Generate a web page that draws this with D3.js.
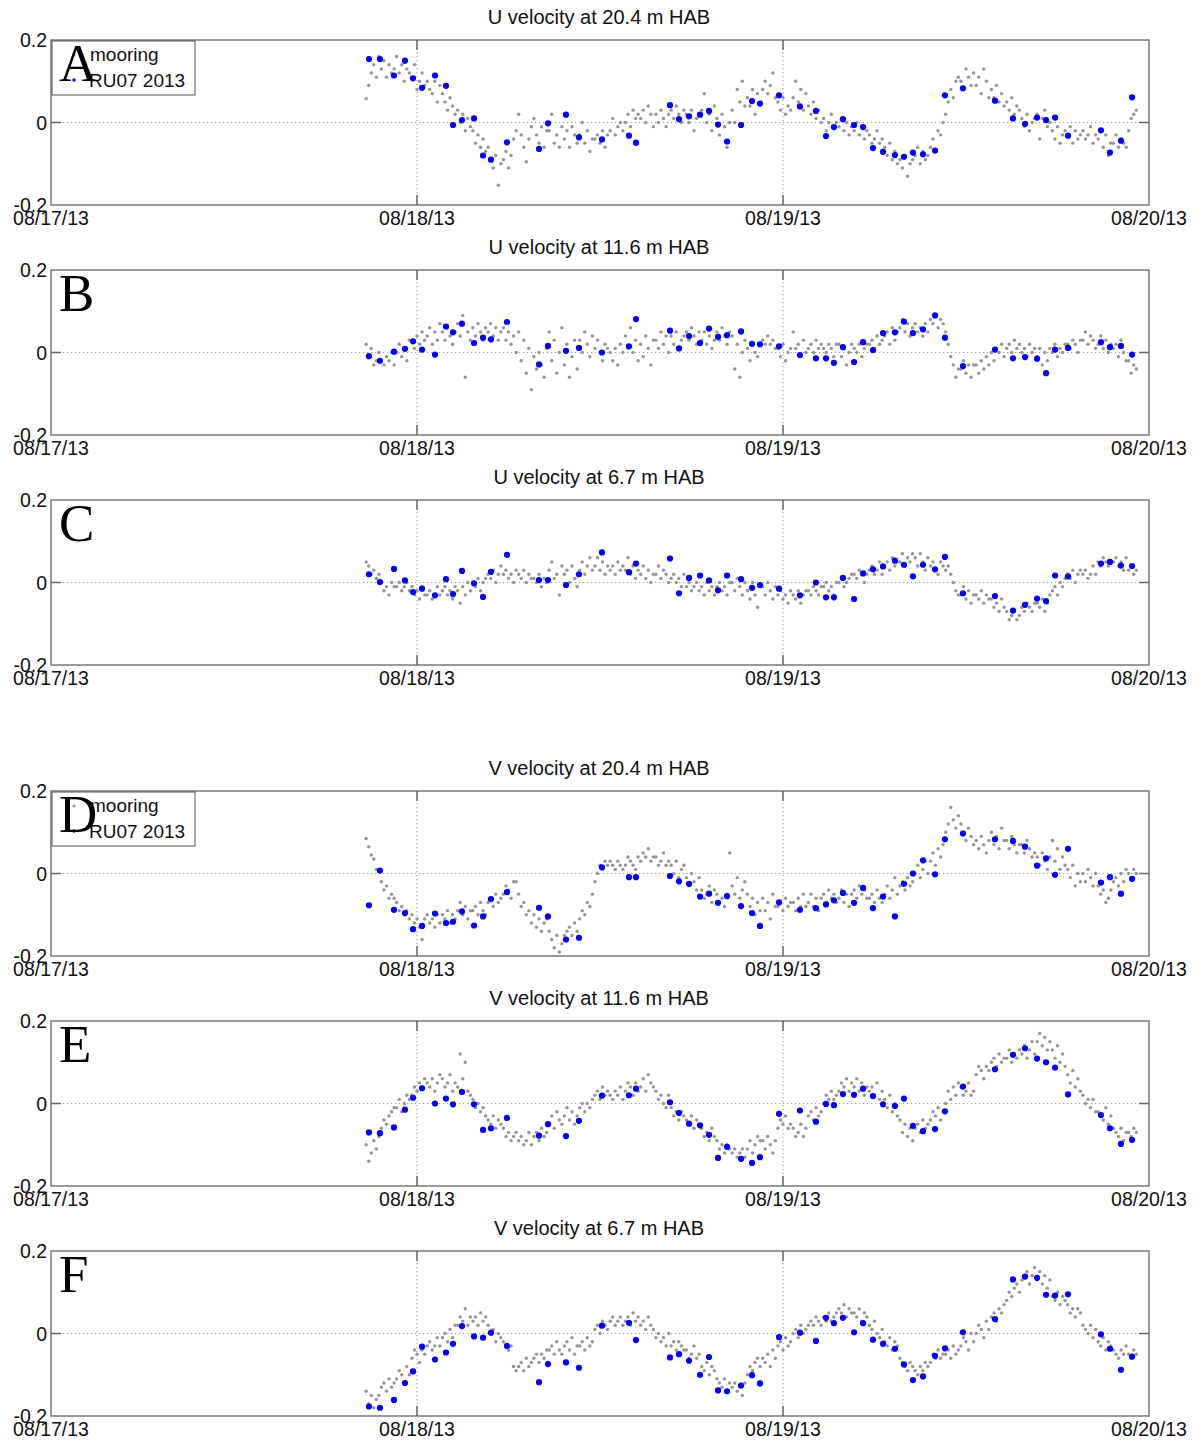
<!DOCTYPE html>
<html><head><meta charset="utf-8">
<script src="https://cdn.jsdelivr.net/npm/d3@7"></script>
<style>body{margin:0;background:#fff}svg{display:block}</style>
</head><body>
<script>
// ---------- DATA ----------
const panelTitles = ["U velocity at 20.4 m HAB","U velocity at 11.6 m HAB","U velocity at 6.7 m HAB",
                     "V velocity at 20.4 m HAB","V velocity at 11.6 m HAB","V velocity at 6.7 m HAB"];
const panelLetters = ["A","B","C","D","E","F"];
const xTickLabels = ["08/17/13","08/18/13","08/19/13","08/20/13"];
const yTickValues = [-0.2, 0, 0.2];
const yTickLabels = ["-0.2","0","0.2"];
const legendLabels = ["mooring","RU07 2013"];
// mooring samples: start 2013-08-17 20:40 UTC, every 10 minutes
const mooringStartHour = 20 + 40/60;
const mooringStepMinutes = 10;
const mooringU20 = [
.058,.09,.12,.14,.11,.16, .13,.15,.11,.14,.12,.13, .16,.12,.14,.10,.13,.12, .11,.14,.08,.10,.12,.09,
.10,.08,.07,.10,.05,.09, .07,.05,.03,.06,.04,.02, .03,.00,.02,-.02,.01,-.01, -.02,-.05,-.03,-.06,-.04,-.07,
-.06,-.09,-.11,-.08,-.152,-.10, -.09,-.07,-.11,-.08,-.04,-.02, .02,-.03,-.06,-.095,-.04,-.01, .01,-.03,-.05,-.01,-.06,-.02,
-.02,.02,-.05,-.03,-.06,-.01, -.04,-.02,-.06,-.01,-.03,-.05, -.03,.00,-.05,-.02,-.07,-.04, -.04,-.03,-.05,-.02,-.06,-.03,
-.02,.01,-.03,-.01,.00,-.02, .00,.02,-.01,.03,.01,.02, .01,.03,.00,.04,.02,-.01, .02,.00,.03,.01,-.01,.02,
.03,.01,.04,.02,.00,.03, .02,.00,.03,-.02,.01,.02, .03,.07,.00,.02,-.02,.04, .01,-.03,.02,-.01,-.06,.00,
.03,.00,.08,.05,.10,.04, .06,.04,.08,.02,.07,.05, .08,.10,.07,.09,.12,.06, .05,.03,.06,.02,.04,.03,
.06,.10,.05,.08,.03,.07, .04,.02,.05,.01,.03,.00, .01,-.02,.00,.02,-.01,.00, -.01,.01,-.02,.00,-.03,-.01,
-.02,.00,-.03,-.01,-.04,-.02, -.03,-.05,-.04,-.02,-.05,-.04, -.06,-.08,-.05,-.09,-.07,-.10, -.09,-.11,-.08,-.13,-.10,-.09,
-.08,-.06,-.10,-.07,-.09,-.08, -.06,-.04,-.07,-.02,-.03,.00, .02,.05,.08,.06,.10,.11, .10,.08,.13,.11,.09,.12,
.09,.11,.07,.13,.10,.06, .08,.06,.09,.05,.07,.04, .05,.03,.06,.02,.04,.03, .01,-.01,.02,-.02,.00,.01,
.02,-.04,.01,.03,-.01,.00, -.02,-.04,-.01,-.05,-.03,-.02, -.03,-.01,-.05,-.02,-.04,-.03, -.02,-.04,-.03,-.01,-.05,-.03,
-.04,-.02,-.06,-.03,-.08,-.05, -.05,-.03,-.06,-.04,-.05,-.06, -.02,.01,.02,.03];
const mooringU11 = [
.02,-.01,.01,-.03,-.02,.00, -.02,-.03,-.01,-.02,.00,-.03, .00,.02,-.01,.01,-.02,.03, .03,.01,.04,.02,.05,.03,
.04,.06,.02,.05,.03,.07, .05,.03,.06,.04,.02,.05, .07,.04,.09,-.06,.05,.03, .06,.04,.07,.05,.03,.06,
.05,.07,.04,.06,.03,.05, .06,.03,.05,.02,.04,.00, .05,-.02,.03,-.05,.01,-.09, -.01,-.04,.00,-.03,-.06,.01,
.05,-.02,.03,-.05,.00,.06, -.03,.02,-.06,-.01,.03,-.04, .03,.00,.05,.02,-.01,.04, .01,.03,.00,-.02,.02,.01,
.00,-.02,.01,-.03,.02,.00, .04,.01,.06,.00,.03,-.02, .02,-.01,.04,.01,-.03,.03, .03,.01,.05,.02,.04,.00,
.04,.02,.05,.01,.03,.04, .05,.03,.06,.04,.02,.05, .03,.05,.02,.04,.01,.03, .05,.03,.06,.04,.02,.05,
.04,-.04,.02,-.06,.00,.03, .01,-.02,.02,.00,-.01,.02, .03,.02,.04,.02,.03,.01, .01,-.01,.02,-.02,.00,.01,
.05,.01,.02,-.01,.03,.00, .01,.02,.00,.03,.01,.02, .01,.00,.02,.01,-.01,.02, .02,-.01,.01,-.03,.00,.02,
.01,.00,.02,-.01,.01,.02, .02,.03,.01,.04,.02,.03, .04,.05,.02,.06,.03,.05, .06,.08,.05,.07,.04,.06,
.07,.05,.06,.04,.07,.05, .08,.07,.09,.06,.08,.07, .05,.02,-.01,-.03,-.06,-.04, -.04,-.02,-.05,-.03,-.06,-.03,
-.03,-.05,-.02,-.04,-.01,-.03, .00,-.02,.01,.00,.02,-.01, .01,.02,.00,.03,.01,.02, .00,.01,-.01,.02,.00,.01,
-.01,.01,-.03,.00,-.02,.01, .00,.02,-.01,.01,.00,.02, .02,.01,.03,.02,.00,.03, .03,.05,.02,.04,.03,.01,
.02,.04,.01,.03,.00,.02, .01,.02,-.01,.03,.00,-.02, -.02,-.05,-.03,-.04];
const mooringU7 = [
.05,.04,.02,.03,.01,.02, .00,-.02,-.01,-.03,.00,-.01, -.01,.00,-.02,-.01,.00,-.02, -.01,-.03,-.02,-.04,-.01,-.03,
-.03,-.02,-.04,-.03,-.01,-.03, -.02,-.01,-.03,-.02,-.04,-.01, -.02,-.05,-.01,-.03,.00,-.02, .00,-.01,.01,-.02,.00,.01,
.02,.01,.03,.00,.02,.04, .02,.03,.01,.02,.00,.03, .02,.01,.03,.00,.02,.01, .01,.00,.02,-.01,.01,.00,
.03,.05,.01,.02,-.03,.04, .02,.03,.00,.04,.01,-.01, .03,.05,.02,.04,.06,.03, .04,.06,.03,.05,.02,.04,
.03,.04,.02,.05,.03,.04, .03,.06,.02,.04,.01,.03, .02,.04,.01,.03,.00,.02, .02,.04,.01,.03,.02,.00,
.01,.02,.00,.01,-.01,.02, -.01,.00,-.02,-.01,.00,-.02, -.01,-.03,.00,-.02,-.01,-.03, -.01,.00,-.02,-.01,-.03,.00,
.00,-.02,.01,-.01,-.03,.00, -.02,-.04,.00,-.03,-.06,-.01, -.01,-.03,.00,-.02,-.04,-.01, -.03,-.02,-.04,-.03,-.05,-.02,
-.03,-.04,-.02,-.05,-.03,-.02, -.02,-.03,-.01,-.02,-.03,-.01, -.01,.00,-.02,-.01,-.03,.00, .00,.01,-.01,.00,.01,.02,
.02,.01,.03,.02,.00,.02, .03,.04,.02,.03,.05,.02, .04,.05,.03,.06,.04,.05, .05,.07,.04,.06,.05,.07,
.06,.04,.07,.05,.03,.06, .04,.05,.03,.02,.05,.04, .03,.04,.02,.00,-.02,-.03, -.03,-.01,-.04,-.02,-.05,-.03,
-.03,-.04,-.02,-.05,-.03,-.04, -.04,-.06,-.05,-.07,-.04,-.06, -.07,-.09,-.08,-.07,-.09,-.08, -.06,-.07,-.05,-.06,-.07,-.05,
-.05,-.06,-.04,-.07,-.05,-.03, -.02,-.01,-.03,.00,-.01,.01, .02,.01,.03,.00,.02,.03, .02,.03,.01,.02,.04,.02,
.05,.04,.06,.05,.04,.05, .05,.06,.04,.05,.03,.06, .03,.04,.02,.03];
const mooringV20 = [
.085,.065,.045,.035,.01,.005, -.02,-.04,-.03,-.06,-.05,-.06, -.07,-.09,-.08,-.10,-.09,-.11, -.10,-.12,-.11,-.13,-.16,-.11,
-.10,-.12,-.11,-.13,-.10,-.12, -.10,-.11,-.09,-.12,-.10,-.11, -.09,-.07,-.10,-.08,-.11,-.09, -.09,-.08,-.10,-.07,-.09,-.10,
-.07,-.06,-.08,-.05,-.07,-.06, -.05,-.03,-.04,-.06,-.02,-.02, -.05,-.08,-.07,-.10,-.09,-.12, -.10,-.13,-.11,-.14,-.12,-.11,
-.14,-.16,-.18,-.15,-.19,-.17, -.15,-.14,-.13,-.15,-.12,-.14, -.11,-.09,-.10,-.07,-.08,-.05, -.02,.00,.02,.01,.03,.02,
.03,.02,.01,.03,.02,.01, .02,.04,.03,.02,.01,.04, .03,.05,.04,.06,.03,.04, .04,.02,.03,.05,.02,.03,
.02,.00,.03,-.01,.01,.02, -.01,-.03,.00,-.02,-.04,-.01, -.04,-.06,-.05,-.03,-.07,-.04, -.05,-.07,-.06,-.08,-.05,.05,
-.03,-.05,-.01,-.06,-.04,-.02, -.05,-.08,-.06,-.10,-.07,-.09, -.06,-.09,-.07,-.11,-.05,-.08, -.08,-.07,-.09,-.06,-.08,-.07,
-.07,-.09,-.06,-.08,-.05,-.08, -.07,-.05,-.08,-.06,-.09,-.06, -.05,-.07,-.04,-.06,-.05,-.07, -.06,-.04,-.07,-.05,-.08,-.05,
-.04,-.06,-.03,-.05,-.04,-.06, -.06,-.05,-.07,-.04,-.06,-.07, -.05,-.03,-.06,-.04,-.01,-.05, -.03,-.02,-.04,-.01,-.03,-.02,
.00,.02,-.01,.01,.03,.00, .03,.05,.02,.06,.04,.07, .10,.12,.16,.13,.11,.14, .12,.10,.08,.11,.09,.07,
.08,.06,.09,.07,.05,.08, .10,.07,.09,.06,.11,.08, .08,.06,.09,.07,.05,.07, .07,.05,.08,.06,.04,.05,
.04,.02,.05,.03,.01,.04, .08,.03,.06,.01,.04,.02, .01,-.01,.02,-.03,.00,-.02, .00,-.02,.01,-.01,-.03,.00,
-.03,-.05,-.04,-.07,-.06,-.04, -.02,-.01,-.03,.00,-.02,.01, .00,-.01,.01,.00];
const mooringV11 = [
-.10,-.14,-.12,-.09,-.11,-.08, -.06,-.04,-.05,-.03,-.02,-.01, -.01,.01,-.02,.00,.02,.01, .02,.04,.03,.05,.04,.06,
.05,.04,.06,.03,.05,.07, .06,.04,.05,.07,.03,.05, .04,.12,.06,.10,.03,.02, .01,-.01,.00,-.02,-.01,-.03,
-.04,-.05,-.03,-.06,-.04,-.05, -.06,-.08,-.07,-.09,-.08,-.07, -.09,-.08,-.10,-.09,-.07,-.10, -.08,-.07,-.09,-.06,-.08,-.07,
-.05,-.03,-.06,-.02,-.04,-.05, -.03,-.01,-.04,-.02,-.05,-.03, -.01,.00,-.02,.00,-.01,.01, .02,.03,.01,.04,.02,.03,
.02,.01,.03,.02,.04,.01, .03,.05,.04,.02,.05,.03, .04,.06,.03,.07,.05,.04, .03,.01,.02,.00,-.01,.02,
-.01,-.03,-.02,-.04,-.02,-.03, -.04,-.05,-.03,-.06,-.04,-.05, -.06,-.08,-.07,-.09,-.06,-.08, -.09,-.11,-.10,-.12,-.10,-.11,
-.12,-.11,-.13,-.12,-.11,-.13, -.11,-.09,-.12,-.10,-.08,-.09, -.09,-.11,-.08,-.10,-.12,-.09, -.06,-.04,-.05,-.03,-.06,-.05,
-.06,-.08,-.07,-.05,-.08,-.06, -.03,-.02,-.04,-.01,-.03,-.02, .00,.02,.01,.03,.01,.02, .03,.05,.04,.06,.03,.05,
.04,.06,.03,.05,.02,.04, .03,.04,.02,.05,.01,.03, .01,-.01,.02,-.02,.00,-.03, -.04,-.07,-.05,-.08,-.06,-.09,
-.06,-.05,-.07,-.04,-.06,-.05, -.04,-.02,-.03,-.01,-.04,-.02, .00,.03,.01,.04,.02,.05, .04,.02,.03,.05,.02,.03,
.07,.09,.08,.06,.09,.08, .10,.11,.09,.12,.10,.11, .11,.13,.10,.12,.11,.13, .12,.14,.11,.13,.15,.12,
.15,.17,.14,.16,.13,.15, .13,.11,.14,.10,.12,.09, .07,.05,.08,.04,.06,.03, .02,.00,.01,-.01,.01,-.02,
-.02,-.03,-.04,-.01,-.05,-.03, -.06,-.07,-.08,-.06,-.09,-.07, -.07,-.08,-.06,-.07];
const mooringV7 = [
-.14,-.17,-.15,-.18,-.16,-.15, -.13,-.12,-.14,-.11,-.13,-.12, -.11,-.09,-.10,-.12,-.08,-.10, -.06,-.04,-.05,-.07,-.04,-.05,
-.03,-.02,-.04,-.03,-.01,-.03, -.01,.00,-.02,.01,-.01,.02, .02,.04,.03,.06,.02,.04, .03,.04,.02,.05,.03,.04,
.02,.00,.01,-.02,.00,-.01, -.02,-.03,-.04,-.03,-.08,-.09, -.08,-.07,-.09,-.06,-.08,-.07, -.06,-.05,-.07,-.05,-.06,-.04,
-.04,-.03,-.05,-.02,-.04,-.05, -.03,-.02,-.04,-.01,-.05,-.03, -.03,-.02,-.04,-.01,-.03,-.02, .01,.02,.00,.03,.02,.01,
.03,.04,.02,.03,.04,.02, .03,.04,.02,.05,.03,.04, .02,.03,.01,.04,.02,.01, -.01,.00,-.02,-.01,-.03,.00,
-.03,-.02,-.04,-.02,-.03,-.04, -.04,-.06,-.05,-.03,-.06,-.05, -.08,-.09,-.07,-.10,-.08,-.09, -.11,-.12,-.13,-.11,-.14,-.12,
-.13,-.12,-.14,-.13,-.15,-.12, -.10,-.08,-.09,-.07,-.06,-.08, -.06,-.07,-.05,-.08,-.04,-.06, -.03,-.02,-.04,-.01,-.03,-.02,
.00,.01,-.01,.02,.00,.01, .02,.03,.02,.04,.03,.02, .04,.03,.05,.03,.04,.05, .06,.05,.07,.04,.06,.05,
.05,.04,.06,.03,.05,.04, .02,.01,.03,.00,-.01,.01, -.02,-.03,-.01,-.04,-.02,-.03, -.06,-.07,-.08,-.09,-.07,-.08,
-.09,-.10,-.08,-.09,-.07,-.08, -.07,-.05,-.06,-.04,-.06,-.05, -.05,-.04,-.06,-.03,-.05,-.04, -.03,-.01,-.02,-.04,.00,-.02,
.00,.02,.01,-.01,.03,.01, .04,.05,.03,.06,.05,.07, .08,.10,.09,.11,.12,.10, .13,.14,.15,.12,.14,.16,
.13,.15,.12,.14,.11,.13, .09,.08,.10,.07,.09,.08, .07,.05,.06,.04,.06,.05, .02,.01,.00,.02,-.01,.01,
-.02,-.03,-.01,-.04,-.02,-.03, -.04,-.05,-.06,-.04,-.05,-.03, -.05,-.06,-.04,-.05];
// glider (RU07) profile times, hours after 2013-08-17 00:00 UTC
const gliderHours = [20.85,21.57,22.49,23.21,23.74,24.33,25.18,25.90,26.36,26.95,27.74,28.33,28.85,29.90,32.00,32.59,
33.77,34.62,36.13,37.90,38.36,40.59,41.18,41.84,42.56,43.15,43.74,44.33,45.25,45.97,46.49,47.74,49.11,50.16,50.82,
51.34,51.93,52.66,53.25,53.90,54.56,55.34,55.93,56.52,57.18,57.97,58.62,59.80,61.90,63.08,63.87,64.66,65.25,65.84,
66.69,68.85,69.44,70.16,70.89];
const gliderU20 = [.154,.154,.114,.150,.107,.084,.114,.089,-.006,.006,.010,-.080,-.090,-.048,-.064,-.002,.019,-.036,-.041,
-.032,-.049,.042,.008,.015,.019,.028,-.005,-.046,-.006,.052,.046,.066,.039,.028,-.033,-.011,.008,-.006,-.011,-.062,-.071,
-.079,-.083,-.073,-.077,-.068,.066,.083,.053,.010,-.003,.012,.006,.012,-.032,-.019,-.073,-.044,.061];
const gliderU11 = [-.009,-.020,.002,.009,.027,.007,-.005,.063,.049,.070,.023,.036,.032,.074,-.029,.016,.004,.011,.000,
.015,.081,.053,.010,.040,.023,.058,.038,.042,.051,.021,.020,.015,-.006,-.014,-.014,-.025,.013,-.023,.025,.006,.047,
.049,.075,.047,.056,.090,.036,-.033,.007,-.014,-.011,-.015,-.050,.007,.011,.025,.013,.016,-.005];
const gliderU7 = [.020,.001,.033,.005,-.023,-.015,-.031,.008,-.028,.028,-.002,-.035,.026,.067,.006,.006,-.006,.020,.073,
.025,.046,.058,-.026,.011,.017,.005,-.019,.017,.008,-.013,-.006,-.015,-.031,.000,-.036,-.036,.011,-.040,.022,.032,.039,
.053,.043,.015,.043,.032,.062,-.026,-.033,-.068,-.054,-.039,-.045,.017,.015,.046,.050,.041,.040];
const gliderV20 = [-.077,.007,-.088,-.096,-.135,-.127,-.097,-.120,-.117,-.092,-.126,-.104,-.062,-.045,-.083,-.104,-.160,
-.156,.015,-.009,-.009,-.006,-.019,-.025,-.056,-.049,-.071,-.055,-.079,-.096,-.127,-.070,-.088,-.084,-.075,-.065,-.047,
-.071,-.035,-.084,-.056,-.104,-.025,.000,.032,-.002,.083,.097,.083,.079,.065,.019,.037,-.003,.060,-.022,-.009,-.049,-.013];
const gliderV11 = [-.070,-.072,-.058,-.015,.014,.037,.000,.012,-.002,.028,-.002,-.064,-.060,-.035,-.078,-.050,-.079,-.042,
.019,.020,.036,.003,-.023,-.049,-.053,-.076,-.132,-.105,-.134,-.144,-.130,-.025,-.017,-.044,-.001,-.004,.023,.021,.036,
.018,-.002,-.006,.012,-.054,-.067,-.062,-.019,.041,.083,.118,.134,.109,.100,.087,.022,-.028,-.060,-.098,-.088];
const gliderV7 = [-.177,-.180,-.161,-.120,-.092,-.032,-.063,-.046,-.025,.018,-.007,-.010,.002,-.030,-.118,-.074,-.070,
-.083,.019,.026,-.016,-.058,-.050,-.066,-.100,-.057,-.138,-.140,-.126,-.101,-.121,-.009,.002,-.018,.038,.025,.038,.003,
.025,-.015,-.025,-.037,-.075,-.113,-.104,-.054,-.036,.003,.035,.131,.138,.135,.094,.092,.095,-.002,-.037,-.088,-.056];

const mooringSeries = [mooringU20, mooringU11, mooringU7, mooringV20, mooringV11, mooringV7];
const gliderSeries  = [gliderU20, gliderU11, gliderU7, gliderV20, gliderV11, gliderV7];

// ---------- LAYOUT ----------
const W = 1201, H = 1442;
const panelTops = [40, 270, 500, 791, 1021, 1251];
const panelH = 165, x0 = 51, x1 = 1149;
const t0 = Date.UTC(2013, 7, 17);
const hourMs = 3600 * 1000;
const toDate = h => new Date(t0 + h * hourMs);

const svg = d3.select("body").append("svg").attr("width", W).attr("height", H)
  .style("font-family", "'Liberation Sans', Arial, sans-serif");

const x = d3.scaleUtc().domain([new Date(Date.UTC(2013,7,17)), new Date(Date.UTC(2013,7,20))]).range([x0, x1]);
const xTicks = [0,1,2,3].map(d => new Date(Date.UTC(2013,7,17 + d)));

panelTops.forEach((top, p) => {
  const y = d3.scaleLinear().domain([-0.2, 0.2]).range([top + panelH, top]);
  const g = svg.append("g");
  // title
  g.append("text").attr("x", 599).attr("y", top - 16).attr("text-anchor", "middle")
    .attr("font-size", 20).attr("fill", "#111").text(panelTitles[p]);
  // grid (dotted)
  g.append("line").attr("x1", x0).attr("x2", x1).attr("y1", y(0)).attr("y2", y(0))
    .attr("stroke", "#999").attr("stroke-dasharray", "1.2,2.8").attr("stroke-width", 1);
  xTicks.slice(1, 3).forEach(d => {
    g.append("line").attr("x1", x(d)).attr("x2", x(d)).attr("y1", top).attr("y2", top + panelH)
      .attr("stroke", "#999").attr("stroke-dasharray", "1.2,2.8").attr("stroke-width", 1);
  });
  // mooring points
  const mv = mooringSeries[p];
  g.append("g").selectAll("circle").data(mv).join("circle")
    .attr("cx", (v, i) => x(toDate(mooringStartHour + i * mooringStepMinutes / 60)))
    .attr("cy", v => y(v)).attr("r", 1.7).attr("fill", "#959595");
  // glider points
  g.append("g").selectAll("circle").data(gliderSeries[p]).join("circle")
    .attr("cx", (v, i) => x(toDate(gliderHours[i]))).attr("cy", v => y(v))
    .attr("r", 3.1).attr("fill", "#0000ff");
  // frame
  g.append("rect").attr("x", x0).attr("y", top).attr("width", x1 - x0).attr("height", panelH)
    .attr("fill", "none").attr("stroke", "#7a7a7a").attr("stroke-width", 1.5);
  // ticks
  xTicks.slice(1, 3).forEach(d => {
    g.append("line").attr("x1", x(d)).attr("x2", x(d)).attr("y1", top).attr("y2", top + 10).attr("stroke", "#666").attr("stroke-width", 1.5);
    g.append("line").attr("x1", x(d)).attr("x2", x(d)).attr("y1", top + panelH).attr("y2", top + panelH - 10).attr("stroke", "#666").attr("stroke-width", 1.5);
  });
  g.append("line").attr("x1", x0).attr("x2", x0 + 10).attr("y1", y(0)).attr("y2", y(0)).attr("stroke", "#666").attr("stroke-width", 1.5);
  g.append("line").attr("x1", x1 - 10).attr("x2", x1).attr("y1", y(0)).attr("y2", y(0)).attr("stroke", "#666").attr("stroke-width", 1.5);
  // y tick labels
  yTickValues.forEach((v, i) => {
    g.append("text").attr("x", 47).attr("y", y(v) + 7).attr("text-anchor", "end")
      .attr("font-size", 19.5).attr("fill", "#111").text(yTickLabels[i]);
  });
  // x tick labels
  xTicks.forEach((d, i) => {
    g.append("text").attr("x", x(d)).attr("y", top + panelH + 20).attr("text-anchor", "middle")
      .attr("font-size", 19.5).attr("fill", "#111").text(xTickLabels[i]);
  });
  // legend for first panel of each group
  if (p === 0 || p === 3) {
    const lg = g.append("g");
    lg.append("rect").attr("x", x0 + 1).attr("y", top + 1).attr("width", 143).attr("height", 54)
      .attr("fill", "#fff").attr("stroke", "#555").attr("stroke-width", 1);
    lg.append("circle").attr("cx", 74).attr("cy", top + 15).attr("r", 1.5).attr("fill", "#959595");
    lg.append("circle").attr("cx", 74).attr("cy", top + 40).attr("r", 1.7).attr("fill", "#0000ff");
    lg.append("text").attr("x", 90).attr("y", top + 21).attr("font-size", 19).attr("fill", "#111").text(legendLabels[0]);
    lg.append("text").attr("x", 89).attr("y", top + 47).attr("font-size", 19).attr("fill", "#111").text(legendLabels[1]);
  }
  // panel letter
  g.append("text").attr("x", 59).attr("y", top + 41).attr("font-family", "'Liberation Serif', 'Times New Roman', serif")
    .attr("font-size", 53).attr("fill", "#000").text(panelLetters[p]);
});
</script>
</body></html>
